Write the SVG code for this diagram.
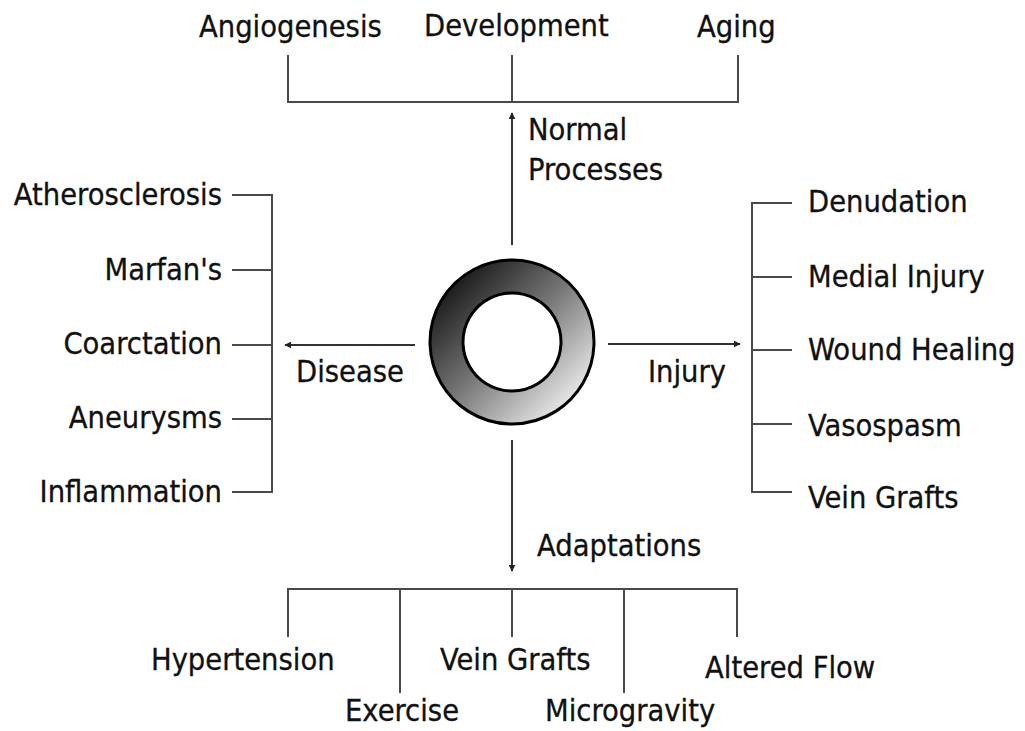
<svg xmlns="http://www.w3.org/2000/svg" width="1025" height="731" viewBox="0 0 1025 731">
<style>
text{font-family:"DejaVu Sans Condensed","DejaVu Sans",Verdana,sans-serif;font-stretch:condensed;font-size:30.5px;fill:#111;stroke:#111;stroke-width:0.3}
.e{text-anchor:end}
.ln{stroke:#4a4a4a;stroke-width:2;fill:none}
.ar{stroke:#333;stroke-width:2;fill:none;marker-end:url(#ah)}
</style>
<defs>
<marker id="ah" viewBox="0 0 10 10" refX="9" refY="5" markerWidth="7" markerHeight="7" markerUnits="userSpaceOnUse" orient="auto"><path d="M0,0L10,5L0,10z" fill="#222"/></marker>
<linearGradient id="rg" x1="0.1" y1="0.1" x2="0.9" y2="0.9">
<stop offset="0" stop-color="#111"/>
<stop offset="0.5" stop-color="#7a7a7a"/>
<stop offset="1" stop-color="#f4f4f4"/>
</linearGradient>
</defs>
<rect width="1025" height="731" fill="#fff"/>
<g id="connectors">
<path class="ln" d="M288,55V102H738V55M512,55V102"/>
<path class="ar" d="M512,245V113"/>
<path class="ln" d="M232,195H272V492H232M232,270H272M232,345H272M232,419H272"/>
<path class="ar" d="M415,345H285"/>
<path class="ln" d="M792,203H752V492H792M752,277H792M752,350H792M752,424H792"/>
<path class="ar" d="M608,344H740"/>
<path class="ar" d="M512,440V571"/>
<path class="ln" d="M288,637V589H737V637M400,589V693M512,589V637M624,589V693"/>
</g>
<g id="vessel">
<path d="M512,260a82,82 0 1,0 0.01,0zM512,293a49,49 0 1,1 -0.01,0z" fill="url(#rg)" fill-rule="evenodd" stroke="#000" stroke-width="3"/>
</g>
<g id="normal-processes">
<text x="528" y="140">Normal</text>
<text x="528" y="180">Processes</text>
</g>
<g id="angiogenesis"><text x="199" y="37">Angiogenesis</text></g>
<g id="development"><text x="424" y="36">Development</text></g>
<g id="aging"><text x="697" y="37">Aging</text></g>
<g id="disease"><text x="296" y="382">Disease</text></g>
<g id="atherosclerosis"><text class="e" x="222" y="205">Atherosclerosis</text></g>
<g id="marfans"><text class="e" x="222" y="280">Marfan's</text></g>
<g id="coarctation"><text class="e" x="222" y="354">Coarctation</text></g>
<g id="aneurysms"><text class="e" x="222" y="428">Aneurysms</text></g>
<g id="inflammation"><text class="e" x="222" y="502">Inflammation</text></g>
<g id="injury"><text x="648" y="382">Injury</text></g>
<g id="denudation"><text x="808" y="212">Denudation</text></g>
<g id="medial-injury"><text x="808" y="287">Medial Injury</text></g>
<g id="wound-healing"><text x="808" y="360">Wound Healing</text></g>
<g id="vasospasm"><text x="808" y="436">Vasospasm</text></g>
<g id="vein-grafts-injury"><text x="808" y="508">Vein Grafts</text></g>
<g id="adaptations"><text x="537" y="556">Adaptations</text></g>
<g id="hypertension"><text x="151" y="670">Hypertension</text></g>
<g id="exercise"><text x="345" y="721">Exercise</text></g>
<g id="vein-grafts-adapt"><text x="440" y="670">Vein Grafts</text></g>
<g id="microgravity"><text x="545" y="721">Microgravity</text></g>
<g id="altered-flow"><text x="705" y="678">Altered Flow</text></g>
</svg>
